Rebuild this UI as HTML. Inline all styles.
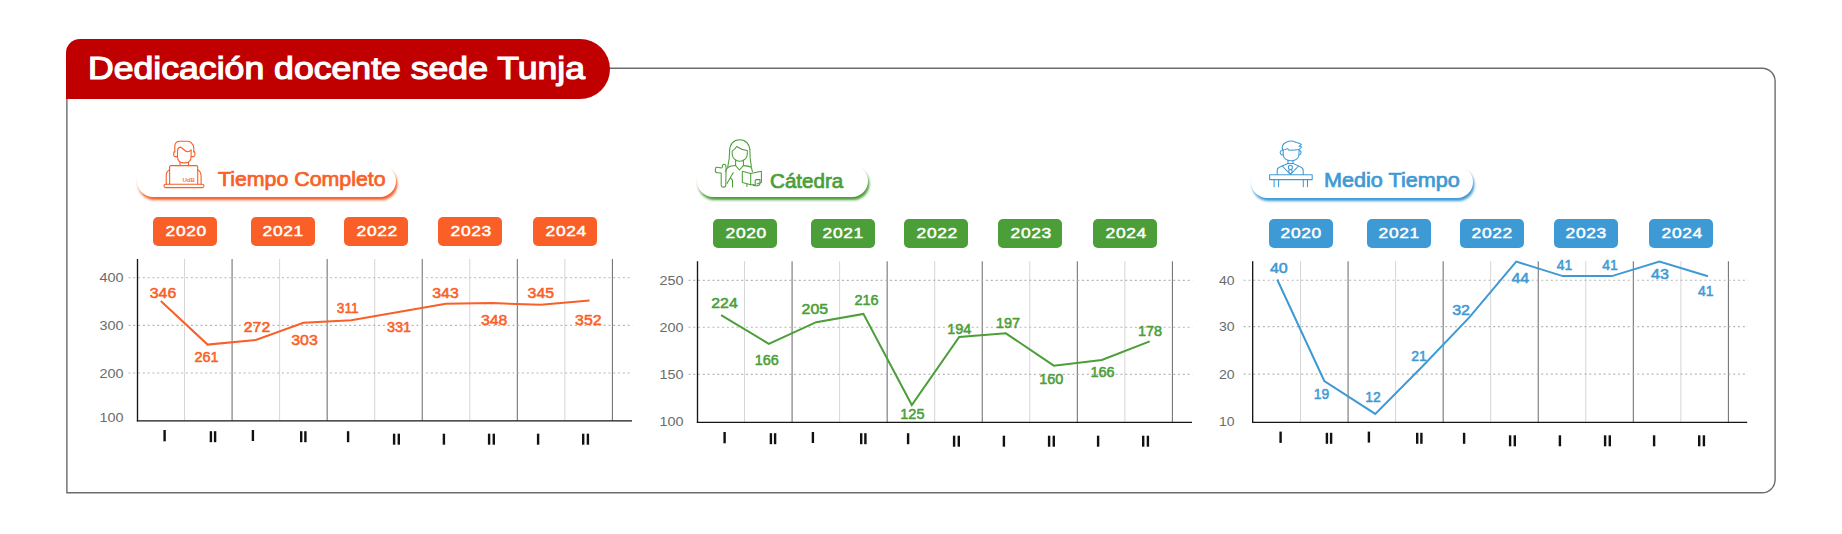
<!DOCTYPE html>
<html lang="es"><head><meta charset="utf-8"><title>Dedicación docente sede Tunja</title>
<style>
html,body{margin:0;padding:0;background:#fff;}
body{width:1842px;height:534px;position:relative;overflow:hidden;font-family:"Liberation Sans",sans-serif;}
.title{z-index:2;position:absolute;left:66px;top:39px;width:544px;height:60px;background:#C00000;border-radius:14px 30px 30px 0;color:#fff;font-weight:normal;-webkit-text-stroke:1.2px #fff;font-size:32px;line-height:60px;white-space:nowrap;}
.title span{position:absolute;left:21.9px;top:-1.1px;display:inline-block;transform-origin:0 50%;transform:scaleX(1.113);}
.pill{position:absolute;height:32px;border-radius:16px;background:#fff;font-weight:normal;-webkit-text-stroke:0.7px currentColor;font-size:19.6px;white-space:nowrap;}
.pill span{position:absolute;display:inline-block;transform-origin:0 50%;line-height:24px;}
.badge{position:absolute;width:64.3px;height:28.6px;border-radius:5px;color:#fff;font-weight:normal;-webkit-text-stroke:0.5px #fff;font-size:14.5px;text-align:center;line-height:28.6px;}
.badge span{display:inline-block;transform:scaleX(1.2);letter-spacing:0.55px;margin-right:-0.55px;position:relative;top:-0.15px;left:0.4px;}
svg{position:absolute;left:0;top:0;}
svg text{font-family:"Liberation Sans",sans-serif;}
</style></head><body>
<div class="title"><span id="ttl">Dedicación docente sede Tunja</span></div>

<div class="pill" style="left:137px;top:165px;width:258.5px;box-shadow:1.3px 2.9px 2.6px #F95F27;color:#F95F27"><span id="p1" style="left:80.8px;top:1.9px;transform:scaleX(1.089)">Tiempo Completo</span></div>
<div class="pill" style="left:697.2px;top:165.1px;width:171.3px;box-shadow:1.3px 2.9px 2.6px #4B9E38;color:#4B9E38"><span id="p2" style="left:72.6px;top:4.2px;transform:scaleX(1.052)">Cátedra</span></div>
<div class="pill" style="left:1251.3px;top:165.5px;width:221.7px;box-shadow:1.3px 2.9px 2.6px #3E9AD4;color:#3E9AD4"><span id="p3" style="left:72.7px;top:2.1px;transform:scaleX(1.103)">Medio Tiempo</span></div>

<div class="badge" style="left:153px;top:217.2px;background:#F95F27"><span>2020</span></div>
<div class="badge" style="left:250.8px;top:217.2px;background:#F95F27"><span>2021</span></div>
<div class="badge" style="left:344px;top:217.2px;background:#F95F27"><span>2022</span></div>
<div class="badge" style="left:438px;top:217.2px;background:#F95F27"><span>2023</span></div>
<div class="badge" style="left:533.2px;top:217.2px;background:#F95F27"><span>2024</span></div>
<div class="badge" style="left:713px;top:219.1px;background:#4B9E38"><span>2020</span></div>
<div class="badge" style="left:810.8px;top:219.1px;background:#4B9E38"><span>2021</span></div>
<div class="badge" style="left:904px;top:219.1px;background:#4B9E38"><span>2022</span></div>
<div class="badge" style="left:998px;top:219.1px;background:#4B9E38"><span>2023</span></div>
<div class="badge" style="left:1093.2px;top:219.1px;background:#4B9E38"><span>2024</span></div>
<div class="badge" style="left:1268.8px;top:219.1px;background:#3E9AD4"><span>2020</span></div>
<div class="badge" style="left:1366.6px;top:219.1px;background:#3E9AD4"><span>2021</span></div>
<div class="badge" style="left:1459.8px;top:219.1px;background:#3E9AD4"><span>2022</span></div>
<div class="badge" style="left:1553.8px;top:219.1px;background:#3E9AD4"><span>2023</span></div>
<div class="badge" style="left:1649px;top:219.1px;background:#3E9AD4"><span>2024</span></div>

<svg width="1842" height="534" viewBox="0 0 1842 534">
<path id="panel" d="M66.9 96 V492.75 H1762.1 A13 13 0 0 0 1775.1 479.75 V81.2 A13 13 0 0 0 1762.1 68.2 H606" fill="none" stroke="#6c6c6c" stroke-width="1.4"/>
<g id="chart1">
<line x1="184.54" y1="259.0" x2="184.54" y2="420.8" stroke="#d6d6d6" stroke-width="1"/>
<line x1="232.08" y1="259.0" x2="232.08" y2="420.8" stroke="#6f6f6f" stroke-width="1.05"/>
<line x1="279.62" y1="259.0" x2="279.62" y2="420.8" stroke="#d6d6d6" stroke-width="1"/>
<line x1="327.16" y1="259.0" x2="327.16" y2="420.8" stroke="#6f6f6f" stroke-width="1.05"/>
<line x1="374.70" y1="259.0" x2="374.70" y2="420.8" stroke="#d6d6d6" stroke-width="1"/>
<line x1="422.24" y1="259.0" x2="422.24" y2="420.8" stroke="#6f6f6f" stroke-width="1.05"/>
<line x1="469.78" y1="259.0" x2="469.78" y2="420.8" stroke="#d6d6d6" stroke-width="1"/>
<line x1="517.32" y1="259.0" x2="517.32" y2="420.8" stroke="#6f6f6f" stroke-width="1.05"/>
<line x1="564.86" y1="259.0" x2="564.86" y2="420.8" stroke="#d6d6d6" stroke-width="1"/>
<line x1="612.40" y1="259.0" x2="612.40" y2="420.8" stroke="#6f6f6f" stroke-width="1.05"/>
<line x1="128.5" y1="277.7" x2="632.7" y2="277.7" stroke="#b3b3b3" stroke-width="1.1" stroke-dasharray="1.9 2.9"/>
<line x1="128.5" y1="325.4" x2="632.7" y2="325.4" stroke="#b3b3b3" stroke-width="1.1" stroke-dasharray="1.9 2.9"/>
<line x1="128.5" y1="373.0" x2="632.7" y2="373.0" stroke="#b3b3b3" stroke-width="1.1" stroke-dasharray="1.9 2.9"/>
<line x1="137.50" y1="259.0" x2="137.50" y2="421.4" stroke="#161616" stroke-width="1.35"/>
<line x1="136.83" y1="420.8" x2="632.0" y2="420.8" stroke="#161616" stroke-width="1.35"/>
<text x="111.5" y="282.2" text-anchor="middle" font-size="13.4" fill="#6b6b6b" textLength="24.0" lengthAdjust="spacingAndGlyphs">400</text>
<text x="111.5" y="329.9" text-anchor="middle" font-size="13.4" fill="#6b6b6b" textLength="24.0" lengthAdjust="spacingAndGlyphs">300</text>
<text x="111.5" y="377.5" text-anchor="middle" font-size="13.4" fill="#6b6b6b" textLength="24.0" lengthAdjust="spacingAndGlyphs">200</text>
<text x="111.5" y="422.1" text-anchor="middle" font-size="13.4" fill="#6b6b6b" textLength="24.0" lengthAdjust="spacingAndGlyphs">100</text>
<polyline fill="none" stroke="#F95F27" stroke-width="2" stroke-linejoin="miter" points="160.8,301.1 207.6,344.6 255.8,339.9 303.4,322.8 351.3,320.2 398.5,312.0 445.8,303.7 492.1,303.1 540.8,304.8 589.5,300.5"/>
<text x="163.0" y="297.8" text-anchor="middle" font-size="14.7" fill="#F95F27" stroke="#F95F27" stroke-width="0.55" stroke-linejoin="round" textLength="26.4" lengthAdjust="spacingAndGlyphs">346</text>
<text x="206.5" y="362.4" text-anchor="middle" font-size="14.7" fill="#F95F27" stroke="#F95F27" stroke-width="0.55" stroke-linejoin="round" textLength="24.1" lengthAdjust="spacingAndGlyphs">261</text>
<text x="257.0" y="332.2" text-anchor="middle" font-size="14.7" fill="#F95F27" stroke="#F95F27" stroke-width="0.55" stroke-linejoin="round" textLength="26.4" lengthAdjust="spacingAndGlyphs">272</text>
<text x="304.5" y="345.3" text-anchor="middle" font-size="14.7" fill="#F95F27" stroke="#F95F27" stroke-width="0.55" stroke-linejoin="round" textLength="26.4" lengthAdjust="spacingAndGlyphs">303</text>
<text x="347.7" y="313.1" text-anchor="middle" font-size="14.7" fill="#F95F27" stroke="#F95F27" stroke-width="0.55" stroke-linejoin="round" textLength="21.8" lengthAdjust="spacingAndGlyphs">311</text>
<text x="399.0" y="332.2" text-anchor="middle" font-size="14.7" fill="#F95F27" stroke="#F95F27" stroke-width="0.55" stroke-linejoin="round" textLength="24.1" lengthAdjust="spacingAndGlyphs">331</text>
<text x="445.5" y="297.8" text-anchor="middle" font-size="14.7" fill="#F95F27" stroke="#F95F27" stroke-width="0.55" stroke-linejoin="round" textLength="26.4" lengthAdjust="spacingAndGlyphs">343</text>
<text x="494.2" y="324.5" text-anchor="middle" font-size="14.7" fill="#F95F27" stroke="#F95F27" stroke-width="0.55" stroke-linejoin="round" textLength="26.4" lengthAdjust="spacingAndGlyphs">348</text>
<text x="540.8" y="297.8" text-anchor="middle" font-size="14.7" fill="#F95F27" stroke="#F95F27" stroke-width="0.55" stroke-linejoin="round" textLength="26.4" lengthAdjust="spacingAndGlyphs">345</text>
<text x="588.3" y="324.5" text-anchor="middle" font-size="14.7" fill="#F95F27" stroke="#F95F27" stroke-width="0.55" stroke-linejoin="round" textLength="26.4" lengthAdjust="spacingAndGlyphs">352</text>
<rect x="163.4" y="430.0" width="2.4" height="11.3" fill="#111"/>
<rect x="209.7" y="431.2" width="2.4" height="11.0" fill="#111"/>
<rect x="213.9" y="431.2" width="2.4" height="11.0" fill="#111"/>
<rect x="251.7" y="430.0" width="2.4" height="11.0" fill="#111"/>
<rect x="300.0" y="431.2" width="2.4" height="11.0" fill="#111"/>
<rect x="304.2" y="431.2" width="2.4" height="11.0" fill="#111"/>
<rect x="346.9" y="431.2" width="2.4" height="11.0" fill="#111"/>
<rect x="392.9" y="433.7" width="2.4" height="11.0" fill="#111"/>
<rect x="397.6" y="433.7" width="2.4" height="11.0" fill="#111"/>
<rect x="442.7" y="433.7" width="2.4" height="11.0" fill="#111"/>
<rect x="487.9" y="433.7" width="2.4" height="11.0" fill="#111"/>
<rect x="492.6" y="433.7" width="2.4" height="11.0" fill="#111"/>
<rect x="536.9" y="433.7" width="2.4" height="11.0" fill="#111"/>
<rect x="582.0" y="433.7" width="2.4" height="11.0" fill="#111"/>
<rect x="586.7" y="433.7" width="2.4" height="11.0" fill="#111"/>
</g>
<g id="chart2">
<line x1="744.54" y1="261.2" x2="744.54" y2="422.3" stroke="#d6d6d6" stroke-width="1"/>
<line x1="792.08" y1="261.2" x2="792.08" y2="422.3" stroke="#6f6f6f" stroke-width="1.05"/>
<line x1="839.62" y1="261.2" x2="839.62" y2="422.3" stroke="#d6d6d6" stroke-width="1"/>
<line x1="887.16" y1="261.2" x2="887.16" y2="422.3" stroke="#6f6f6f" stroke-width="1.05"/>
<line x1="934.70" y1="261.2" x2="934.70" y2="422.3" stroke="#d6d6d6" stroke-width="1"/>
<line x1="982.24" y1="261.2" x2="982.24" y2="422.3" stroke="#6f6f6f" stroke-width="1.05"/>
<line x1="1029.78" y1="261.2" x2="1029.78" y2="422.3" stroke="#d6d6d6" stroke-width="1"/>
<line x1="1077.32" y1="261.2" x2="1077.32" y2="422.3" stroke="#6f6f6f" stroke-width="1.05"/>
<line x1="1124.86" y1="261.2" x2="1124.86" y2="422.3" stroke="#d6d6d6" stroke-width="1"/>
<line x1="1172.40" y1="261.2" x2="1172.40" y2="422.3" stroke="#6f6f6f" stroke-width="1.05"/>
<line x1="688.5" y1="280.4" x2="1192.7" y2="280.4" stroke="#b3b3b3" stroke-width="1.1" stroke-dasharray="1.9 2.9"/>
<line x1="688.5" y1="327.2" x2="1192.7" y2="327.2" stroke="#b3b3b3" stroke-width="1.1" stroke-dasharray="1.9 2.9"/>
<line x1="688.5" y1="374.4" x2="1192.7" y2="374.4" stroke="#b3b3b3" stroke-width="1.1" stroke-dasharray="1.9 2.9"/>
<line x1="697.50" y1="261.2" x2="697.50" y2="422.9" stroke="#161616" stroke-width="1.35"/>
<line x1="696.83" y1="422.3" x2="1192.0" y2="422.3" stroke="#161616" stroke-width="1.35"/>
<text x="671.5" y="284.9" text-anchor="middle" font-size="13.4" fill="#6b6b6b" textLength="24.0" lengthAdjust="spacingAndGlyphs">250</text>
<text x="671.5" y="331.7" text-anchor="middle" font-size="13.4" fill="#6b6b6b" textLength="24.0" lengthAdjust="spacingAndGlyphs">200</text>
<text x="671.5" y="378.9" text-anchor="middle" font-size="13.4" fill="#6b6b6b" textLength="24.0" lengthAdjust="spacingAndGlyphs">150</text>
<text x="671.5" y="425.8" text-anchor="middle" font-size="13.4" fill="#6b6b6b" textLength="24.0" lengthAdjust="spacingAndGlyphs">100</text>
<polyline fill="none" stroke="#4B9E38" stroke-width="2" stroke-linejoin="miter" points="721.1,315.1 768.8,343.8 816.2,322.2 863.4,313.9 911.8,405.0 959.2,336.9 1005.9,333.3 1053.8,365.7 1101.8,360.0 1149.7,341.4"/>
<text x="724.5" y="307.5" text-anchor="middle" font-size="14.7" fill="#4B9E38" stroke="#4B9E38" stroke-width="0.55" stroke-linejoin="round" textLength="26.4" lengthAdjust="spacingAndGlyphs">224</text>
<text x="766.7" y="364.5" text-anchor="middle" font-size="14.7" fill="#4B9E38" stroke="#4B9E38" stroke-width="0.55" stroke-linejoin="round" textLength="24.1" lengthAdjust="spacingAndGlyphs">166</text>
<text x="814.8" y="314.0" text-anchor="middle" font-size="14.7" fill="#4B9E38" stroke="#4B9E38" stroke-width="0.55" stroke-linejoin="round" textLength="26.4" lengthAdjust="spacingAndGlyphs">205</text>
<text x="866.6" y="305.3" text-anchor="middle" font-size="14.7" fill="#4B9E38" stroke="#4B9E38" stroke-width="0.55" stroke-linejoin="round" textLength="24.1" lengthAdjust="spacingAndGlyphs">216</text>
<text x="912.4" y="418.5" text-anchor="middle" font-size="14.7" fill="#4B9E38" stroke="#4B9E38" stroke-width="0.55" stroke-linejoin="round" textLength="24.1" lengthAdjust="spacingAndGlyphs">125</text>
<text x="959.2" y="334.1" text-anchor="middle" font-size="14.7" fill="#4B9E38" stroke="#4B9E38" stroke-width="0.55" stroke-linejoin="round" textLength="24.1" lengthAdjust="spacingAndGlyphs">194</text>
<text x="1008.0" y="328.4" text-anchor="middle" font-size="14.7" fill="#4B9E38" stroke="#4B9E38" stroke-width="0.55" stroke-linejoin="round" textLength="24.1" lengthAdjust="spacingAndGlyphs">197</text>
<text x="1051.3" y="383.5" text-anchor="middle" font-size="14.7" fill="#4B9E38" stroke="#4B9E38" stroke-width="0.55" stroke-linejoin="round" textLength="24.1" lengthAdjust="spacingAndGlyphs">160</text>
<text x="1102.5" y="376.9" text-anchor="middle" font-size="14.7" fill="#4B9E38" stroke="#4B9E38" stroke-width="0.55" stroke-linejoin="round" textLength="24.1" lengthAdjust="spacingAndGlyphs">166</text>
<text x="1150.0" y="335.9" text-anchor="middle" font-size="14.7" fill="#4B9E38" stroke="#4B9E38" stroke-width="0.55" stroke-linejoin="round" textLength="24.1" lengthAdjust="spacingAndGlyphs">178</text>
<rect x="723.4" y="432.0" width="2.4" height="11.3" fill="#111"/>
<rect x="769.7" y="433.2" width="2.4" height="11.0" fill="#111"/>
<rect x="773.9" y="433.2" width="2.4" height="11.0" fill="#111"/>
<rect x="811.7" y="432.0" width="2.4" height="11.0" fill="#111"/>
<rect x="860.0" y="433.2" width="2.4" height="11.0" fill="#111"/>
<rect x="864.2" y="433.2" width="2.4" height="11.0" fill="#111"/>
<rect x="906.9" y="433.2" width="2.4" height="11.0" fill="#111"/>
<rect x="952.9" y="435.7" width="2.4" height="11.0" fill="#111"/>
<rect x="957.6" y="435.7" width="2.4" height="11.0" fill="#111"/>
<rect x="1002.7" y="435.7" width="2.4" height="11.0" fill="#111"/>
<rect x="1047.9" y="435.7" width="2.4" height="11.0" fill="#111"/>
<rect x="1052.6" y="435.7" width="2.4" height="11.0" fill="#111"/>
<rect x="1096.9" y="435.7" width="2.4" height="11.0" fill="#111"/>
<rect x="1142.0" y="435.7" width="2.4" height="11.0" fill="#111"/>
<rect x="1146.7" y="435.7" width="2.4" height="11.0" fill="#111"/>
</g>
<g id="chart3">
<line x1="1300.54" y1="261.2" x2="1300.54" y2="422.3" stroke="#d6d6d6" stroke-width="1"/>
<line x1="1348.08" y1="261.2" x2="1348.08" y2="422.3" stroke="#6f6f6f" stroke-width="1.05"/>
<line x1="1395.62" y1="261.2" x2="1395.62" y2="422.3" stroke="#d6d6d6" stroke-width="1"/>
<line x1="1443.16" y1="261.2" x2="1443.16" y2="422.3" stroke="#6f6f6f" stroke-width="1.05"/>
<line x1="1490.70" y1="261.2" x2="1490.70" y2="422.3" stroke="#d6d6d6" stroke-width="1"/>
<line x1="1538.24" y1="261.2" x2="1538.24" y2="422.3" stroke="#6f6f6f" stroke-width="1.05"/>
<line x1="1585.78" y1="261.2" x2="1585.78" y2="422.3" stroke="#d6d6d6" stroke-width="1"/>
<line x1="1633.32" y1="261.2" x2="1633.32" y2="422.3" stroke="#6f6f6f" stroke-width="1.05"/>
<line x1="1680.86" y1="261.2" x2="1680.86" y2="422.3" stroke="#d6d6d6" stroke-width="1"/>
<line x1="1728.40" y1="261.2" x2="1728.40" y2="422.3" stroke="#6f6f6f" stroke-width="1.05"/>
<line x1="1243.7" y1="280.3" x2="1747.9" y2="280.3" stroke="#b3b3b3" stroke-width="1.1" stroke-dasharray="1.9 2.9"/>
<line x1="1243.7" y1="326.6" x2="1747.9" y2="326.6" stroke="#b3b3b3" stroke-width="1.1" stroke-dasharray="1.9 2.9"/>
<line x1="1243.7" y1="374.1" x2="1747.9" y2="374.1" stroke="#b3b3b3" stroke-width="1.1" stroke-dasharray="1.9 2.9"/>
<line x1="1252.66" y1="261.2" x2="1252.66" y2="422.9" stroke="#161616" stroke-width="1.35"/>
<line x1="1251.99" y1="422.3" x2="1747.2" y2="422.3" stroke="#161616" stroke-width="1.35"/>
<text x="1226.7" y="284.8" text-anchor="middle" font-size="13.4" fill="#6b6b6b" textLength="15.6" lengthAdjust="spacingAndGlyphs">40</text>
<text x="1226.7" y="331.1" text-anchor="middle" font-size="13.4" fill="#6b6b6b" textLength="15.6" lengthAdjust="spacingAndGlyphs">30</text>
<text x="1226.7" y="378.6" text-anchor="middle" font-size="13.4" fill="#6b6b6b" textLength="15.6" lengthAdjust="spacingAndGlyphs">20</text>
<text x="1226.7" y="425.5" text-anchor="middle" font-size="13.4" fill="#6b6b6b" textLength="15.6" lengthAdjust="spacingAndGlyphs">10</text>
<polyline fill="none" stroke="#3E9AD4" stroke-width="2" stroke-linejoin="miter" points="1277.2,279.5 1324.3,381.0 1375.3,413.9 1422.3,366.5 1469.3,317.4 1516.2,261.6 1562.8,276.1 1611.9,276.1 1659.4,261.6 1708.0,276.3"/>
<text x="1278.8" y="272.9" text-anchor="middle" font-size="14.7" fill="#3E9AD4" stroke="#3E9AD4" stroke-width="0.55" stroke-linejoin="round" textLength="17.8" lengthAdjust="spacingAndGlyphs">40</text>
<text x="1321.5" y="399.4" text-anchor="middle" font-size="14.7" fill="#3E9AD4" stroke="#3E9AD4" stroke-width="0.55" stroke-linejoin="round" textLength="15.5" lengthAdjust="spacingAndGlyphs">19</text>
<text x="1372.9" y="402.4" text-anchor="middle" font-size="14.7" fill="#3E9AD4" stroke="#3E9AD4" stroke-width="0.55" stroke-linejoin="round" textLength="15.5" lengthAdjust="spacingAndGlyphs">12</text>
<text x="1418.9" y="360.5" text-anchor="middle" font-size="14.7" fill="#3E9AD4" stroke="#3E9AD4" stroke-width="0.55" stroke-linejoin="round" textLength="15.5" lengthAdjust="spacingAndGlyphs">21</text>
<text x="1461.1" y="314.8" text-anchor="middle" font-size="14.7" fill="#3E9AD4" stroke="#3E9AD4" stroke-width="0.55" stroke-linejoin="round" textLength="17.8" lengthAdjust="spacingAndGlyphs">32</text>
<text x="1520.3" y="283.2" text-anchor="middle" font-size="14.7" fill="#3E9AD4" stroke="#3E9AD4" stroke-width="0.55" stroke-linejoin="round" textLength="17.8" lengthAdjust="spacingAndGlyphs">44</text>
<text x="1564.4" y="270.1" text-anchor="middle" font-size="14.7" fill="#3E9AD4" stroke="#3E9AD4" stroke-width="0.55" stroke-linejoin="round" textLength="15.5" lengthAdjust="spacingAndGlyphs">41</text>
<text x="1610.0" y="270.1" text-anchor="middle" font-size="14.7" fill="#3E9AD4" stroke="#3E9AD4" stroke-width="0.55" stroke-linejoin="round" textLength="15.5" lengthAdjust="spacingAndGlyphs">41</text>
<text x="1660.0" y="278.9" text-anchor="middle" font-size="14.7" fill="#3E9AD4" stroke="#3E9AD4" stroke-width="0.55" stroke-linejoin="round" textLength="17.8" lengthAdjust="spacingAndGlyphs">43</text>
<text x="1705.7" y="295.6" text-anchor="middle" font-size="14.7" fill="#3E9AD4" stroke="#3E9AD4" stroke-width="0.55" stroke-linejoin="round" textLength="15.5" lengthAdjust="spacingAndGlyphs">41</text>
<rect x="1279.4" y="431.6" width="2.4" height="11.3" fill="#111"/>
<rect x="1325.7" y="432.8" width="2.4" height="11.0" fill="#111"/>
<rect x="1329.9" y="432.8" width="2.4" height="11.0" fill="#111"/>
<rect x="1367.7" y="431.6" width="2.4" height="11.0" fill="#111"/>
<rect x="1416.0" y="432.8" width="2.4" height="11.0" fill="#111"/>
<rect x="1420.2" y="432.8" width="2.4" height="11.0" fill="#111"/>
<rect x="1462.9" y="432.8" width="2.4" height="11.0" fill="#111"/>
<rect x="1508.9" y="435.3" width="2.4" height="11.0" fill="#111"/>
<rect x="1513.6" y="435.3" width="2.4" height="11.0" fill="#111"/>
<rect x="1558.7" y="435.3" width="2.4" height="11.0" fill="#111"/>
<rect x="1603.9" y="435.3" width="2.4" height="11.0" fill="#111"/>
<rect x="1608.6" y="435.3" width="2.4" height="11.0" fill="#111"/>
<rect x="1652.9" y="435.3" width="2.4" height="11.0" fill="#111"/>
<rect x="1698.0" y="435.3" width="2.4" height="11.0" fill="#111"/>
<rect x="1702.7" y="435.3" width="2.4" height="11.0" fill="#111"/>
</g>
<g id="icon1" transform="translate(155,135)" fill="none" stroke="#F95F27" stroke-width="1.1" stroke-linecap="round" stroke-linejoin="round">
<path d="M19.8 17 V11.4 C19.8 8 21.6 6.2 24.6 6.2 H33.4 C35 6.2 35.6 6.8 36.4 8 C38 9.2 38.8 11 38.8 13 V17"/>
<path d="M19.8 16.6 C18.9 16.6 18.7 17.2 18.7 18 V20 C18.7 21 19.2 21.6 20.2 21.6 H22.4"/>
<path d="M38.8 16.6 C39.7 16.6 39.9 17.2 39.9 18 V20 C39.9 21 39.4 21.6 38.4 21.6 H36.2"/>
<path d="M22.5 22 V15.6 C22.7 14 23.6 12.4 25.2 12.1 C27.6 12.4 29.6 16.6 32.6 16.8 C34.2 16.8 35.4 16 36.1 14.8 V22 C36.1 25.4 33.6 27.9 30.6 27.9 H28 C25 27.9 22.5 25.4 22.5 22 Z"/>
<path d="M25 27.2 V30.6 M33.5 27.2 V30.6"/>
<path d="M14.6 49.2 V32 C14.6 31.2 15.2 30.6 16 30.6 H41.3 C42.1 30.6 42.7 31.2 42.7 32 V49.2"/>
<path d="M14.6 34.8 C12.4 36 11.2 38.4 11.2 41 V49.2 M42.7 34.8 C44.9 36 46.1 38.4 46.1 41 V49.2"/>
<rect x="9" y="49.2" width="39.9" height="3.4" rx="1.6"/>
<text x="27.4" y="46.7" font-size="5.6" font-weight="bold" stroke="none" fill="#F95F27" textLength="12.6" lengthAdjust="spacingAndGlyphs" opacity="0.85">UdB</text>

</g>
<g id="icon2" transform="translate(708,133)" fill="none" stroke="#4B9E38" stroke-width="1.05" stroke-linecap="round" stroke-linejoin="round">
<path d="M19.7 33.9 C21 29 21.6 24 21.6 18 C21.6 11 25.6 6.8 31.7 6.8 C37.8 6.8 41.9 11 41.9 18 C41.9 24 42.4 29 43.4 33.9"/>
<path d="M24.2 18.2 C25.8 17 27.6 15.2 28.6 13.5 C31 15.2 35.4 17 39.3 17.4 V21 C39.3 25 36 28.2 31.8 28.2 C27.6 28.2 24.2 25 24.2 21 Z"/>
<path d="M27.6 27 V32.6 L31.5 37 L35.4 32.6 V27"/>
<path d="M27.6 32.6 C25 32.8 22.4 33 20.6 34 C19 35 18.2 36.6 17.6 38.4"/>
<path d="M35.4 32.6 C38 32.8 40.8 33 42.6 34 C43.8 35 44.2 36.6 44.4 38.6"/>
<path d="M7.6 35.4 C7.6 34.6 8.4 34.2 9.2 34.3 L13.6 34.9 C14.2 34.9 14.5 34.4 14.4 33.6 C14.2 32.2 15 31.2 16.2 31.2 C17.4 31.2 17.9 32.4 18 34 L18 38.6 L17.8 52 C17.8 54.8 13.2 54.8 13.2 52 L13.2 40 L9.2 39.7 C7.8 39.6 7.2 38.4 7.3 37 C7.3 36.4 7.4 35.8 7.6 35.4 Z"/>
<path d="M25.3 39.6 L19 50.6 M22.4 44.7 L24.5 47.2 V54"/>
<path d="M34.3 38.2 L42.7 40.4 V51.7 L34.3 49.4 Z"/>
<path d="M42.7 40.4 L53.4 38.2 V49.4 L49 51 M42.7 51.7 H45"/>
<path d="M38.9 51 V53.4"/>
<path d="M47.2 52.6 V47.6 C47.2 47 47.6 46.6 48.2 46.6 H52 V50 C52 51.6 50.8 52.8 49.2 52.8 H46 C45 52.8 45 51.6 46 51.6"/>

</g>
<g id="icon3" transform="translate(1262,133)" fill="none" stroke="#3E9AD4" stroke-width="1.05" stroke-linecap="round" stroke-linejoin="round">
<path d="M20.6 17 C19.8 14 20.6 11.4 23 10 C25 8.6 27 8 28.6 8 C30.6 8 32.6 8.6 34.4 9.4 C36 9.6 37.8 10.2 39.4 11.4 C38.6 12.2 37.8 12.8 37 13.2 C37.8 13.4 38.8 13.6 39.6 14 C38.8 15 38 15.8 37 16.4 C33.6 17.2 30.2 17.2 27 17.2 C26.4 16.6 25.8 16 25.3 15.6 C24 16.4 22.4 17 20.6 17 Z"/>
<path d="M20.4 17.6 C19 17.4 18 18.4 18.2 19.8 C18.4 21.2 19.4 22.2 21 22"/>
<path d="M37.6 17.6 C38.8 17.6 39.2 18.8 39 20 C38.8 21.2 38.2 22 37 22"/>
<path d="M21.2 17.2 V21.6 C21.2 25 24.4 27.7 28.4 27.7 H29.8 C33.8 27.7 37 25 37 21.6 V16.6"/>
<path d="M26 27.2 V30.4 M31 27.2 V30.4"/>
<path d="M15.2 41.6 V37.4 C15.2 35.6 16.2 34.6 17.8 34 L26 30.4 H31 L38.6 34 C40.2 34.6 41.2 35.6 41.2 37.4 V41.6"/>
<path d="M20.2 33 L28.4 41.4 L36.6 33"/>
<path d="M28.4 32.2 C29.8 32.2 30.4 33.2 30.4 34.4 C30.4 35.6 29.8 36.6 28.4 36.6 C27 36.6 26.4 35.6 26.4 34.4 C26.4 33.2 27 32.2 28.4 32.2 Z M27.3 36.4 L26.5 39 L28.4 41 L30.3 39 L29.5 36.4"/>
<rect x="7.6" y="41.8" width="42.6" height="4.8"/>
<path d="M12.1 46.6 V53.7 M16.6 46.6 V53.7 M41.3 46.6 V53.7 M45.5 46.6 V53.7"/>

</g>
</svg>
</body></html>
